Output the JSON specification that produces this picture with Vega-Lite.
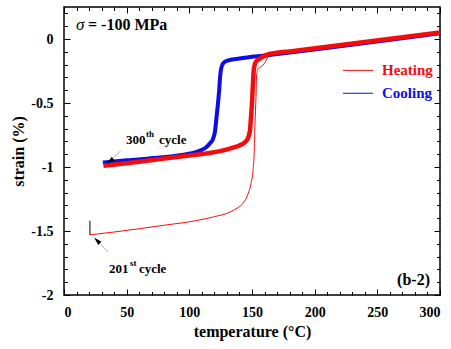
{
  "$schema": "https://vega.github.io/schema/vega-lite/v6.json",
  "width": 376,
  "height": 288,
  "autosize": {"type": "none"},
  "padding": {"left": 64, "top": 7, "right": 11, "bottom": 54},
  "background": "white",
  "config": {
    "view": {"stroke": "black", "strokeWidth": 1.5},
    "font": "Liberation Serif",
    "axis": {
      "domain": false, "grid": false, "tickColor": "black", "tickWidth": 1,
      "labelFont": "Liberation Serif", "labelFontWeight": "bold", "labelFontSize": 14, "labelColor": "black",
      "titleFont": "Liberation Serif", "titleFontWeight": "bold", "titleFontSize": 16, "titleColor": "black"
    }
  },
  "datasets": {
    "curves": [
      {"s": "cool300", "type": "Cooling", "t": 31, "e": -0.965},
      {"s": "cool300", "type": "Cooling", "t": 50, "e": -0.948},
      {"s": "cool300", "type": "Cooling", "t": 74, "e": -0.928},
      {"s": "cool300", "type": "Cooling", "t": 100.5, "e": -0.895},
      {"s": "cool300", "type": "Cooling", "t": 108.5, "e": -0.872},
      {"s": "cool300", "type": "Cooling", "t": 113, "e": -0.85},
      {"s": "cool300", "type": "Cooling", "t": 116.5, "e": -0.815},
      {"s": "cool300", "type": "Cooling", "t": 118.9, "e": -0.78},
      {"s": "cool300", "type": "Cooling", "t": 120.5, "e": -0.72},
      {"s": "cool300", "type": "Cooling", "t": 121.8, "e": -0.6},
      {"s": "cool300", "type": "Cooling", "t": 122.9, "e": -0.5},
      {"s": "cool300", "type": "Cooling", "t": 123.8, "e": -0.4},
      {"s": "cool300", "type": "Cooling", "t": 124.5, "e": -0.3},
      {"s": "cool300", "type": "Cooling", "t": 125.5, "e": -0.225},
      {"s": "cool300", "type": "Cooling", "t": 127, "e": -0.19},
      {"s": "cool300", "type": "Cooling", "t": 130, "e": -0.17},
      {"s": "cool300", "type": "Cooling", "t": 140, "e": -0.152},
      {"s": "cool300", "type": "Cooling", "t": 162, "e": -0.127},
      {"s": "cool300", "type": "Cooling", "t": 300, "e": 0.045},
      {"s": "heat300", "type": "Heating", "t": 31.5, "e": -0.99},
      {"s": "heat300", "type": "Heating", "t": 50, "e": -0.97},
      {"s": "heat300", "type": "Heating", "t": 75, "e": -0.94},
      {"s": "heat300", "type": "Heating", "t": 100, "e": -0.91},
      {"s": "heat300", "type": "Heating", "t": 124.5, "e": -0.876},
      {"s": "heat300", "type": "Heating", "t": 132.5, "e": -0.856},
      {"s": "heat300", "type": "Heating", "t": 140, "e": -0.832},
      {"s": "heat300", "type": "Heating", "t": 144, "e": -0.81},
      {"s": "heat300", "type": "Heating", "t": 146.5, "e": -0.78},
      {"s": "heat300", "type": "Heating", "t": 148.3, "e": -0.72},
      {"s": "heat300", "type": "Heating", "t": 149.3, "e": -0.6},
      {"s": "heat300", "type": "Heating", "t": 150, "e": -0.5},
      {"s": "heat300", "type": "Heating", "t": 150.5, "e": -0.4},
      {"s": "heat300", "type": "Heating", "t": 151, "e": -0.3},
      {"s": "heat300", "type": "Heating", "t": 151.7, "e": -0.22},
      {"s": "heat300", "type": "Heating", "t": 153, "e": -0.18},
      {"s": "heat300", "type": "Heating", "t": 156, "e": -0.155},
      {"s": "heat300", "type": "Heating", "t": 160, "e": -0.132},
      {"s": "heat300", "type": "Heating", "t": 164, "e": -0.117},
      {"s": "heat300", "type": "Heating", "t": 180, "e": -0.097},
      {"s": "heat300", "type": "Heating", "t": 300, "e": 0.05},
      {"s": "heat201", "type": "Heating", "t": 20.7, "e": -1.53},
      {"s": "heat201", "type": "Heating", "t": 40, "e": -1.508},
      {"s": "heat201", "type": "Heating", "t": 60, "e": -1.482},
      {"s": "heat201", "type": "Heating", "t": 80, "e": -1.455},
      {"s": "heat201", "type": "Heating", "t": 106, "e": -1.418},
      {"s": "heat201", "type": "Heating", "t": 120, "e": -1.388},
      {"s": "heat201", "type": "Heating", "t": 132.5, "e": -1.352},
      {"s": "heat201", "type": "Heating", "t": 138, "e": -1.322},
      {"s": "heat201", "type": "Heating", "t": 142.8, "e": -1.284},
      {"s": "heat201", "type": "Heating", "t": 146.8, "e": -1.21},
      {"s": "heat201", "type": "Heating", "t": 149.2, "e": -1.13},
      {"s": "heat201", "type": "Heating", "t": 150.8, "e": -1.03},
      {"s": "heat201", "type": "Heating", "t": 151.7, "e": -0.9},
      {"s": "heat201", "type": "Heating", "t": 152.4, "e": -0.66},
      {"s": "heat201", "type": "Heating", "t": 153.2, "e": -0.45},
      {"s": "heat201", "type": "Heating", "t": 153.7, "e": -0.28},
      {"s": "heat201", "type": "Heating", "t": 154.8, "e": -0.232},
      {"s": "heat201", "type": "Heating", "t": 158.8, "e": -0.205},
      {"s": "heat201", "type": "Heating", "t": 162, "e": -0.155},
      {"s": "heat201", "type": "Heating", "t": 163.6, "e": -0.128},
      {"s": "heat201", "type": "Heating", "t": 166, "e": -0.113}
    ],
    "legend": [
      {"type": "Heating", "x1": 222.6, "x2": 246.6, "tx": 253.7, "y": -0.245},
      {"type": "Cooling", "x1": 222.6, "x2": 246.6, "tx": 253.7, "y": -0.424}
    ],
    "notes": [
      {"g": "ann", "x": 49.5, "y": -0.791, "label": "300"},
      {"g": "sup", "x": 65.4, "y": -0.745, "label": "th"},
      {"g": "ann", "x": 75.8, "y": -0.791, "label": "cycle"},
      {"g": "ann", "x": 35.9, "y": -1.799, "label": "201"},
      {"g": "sup", "x": 52.7, "y": -1.752, "label": "st"},
      {"g": "ann", "x": 59.8, "y": -1.799, "label": "cycle"},
      {"g": "sig", "x": 9.6, "y": 0.107, "label": "σ"},
      {"g": "head", "x": 19.1, "y": 0.107, "label": "= -100 MPa"},
      {"g": "b2", "x": 292, "y": -1.88, "label": "(b-2)"}
    ],
    "pointers": [
      {"k": "300", "x": 39.9, "y": -0.926, "x2": 45.5, "y2": -0.87, "hx": 36.7, "hy": -0.955},
      {"k": "201", "x": 29.5, "y": -1.604, "x2": 35.1, "y2": -1.666, "hx": 26.3, "hy": -1.573}
    ],
    "marker": [
      {"x": 20.7, "y": -1.42, "y2": -1.53}
    ]
  },
  "resolve": {"axis": {"x": "independent", "y": "independent"}},
  "layer": [
    {
      "data": {"name": "curves"},
      "transform": [{"filter": "datum.s === 'heat201'"}],
      "mark": {"type": "line", "strokeWidth": 1, "interpolate": "monotone"},
      "encoding": {
        "x": {"field": "t", "type": "quantitative", "scale": {"domain": [0, 300], "nice": false, "zero": false},
          "axis": {"orient": "top", "values": [0, 50, 100, 150, 200, 250, 300], "tickSize": -6, "labels": false, "title": null}},
        "y": {"field": "e", "type": "quantitative", "scale": {"domain": [-2, 0.25], "nice": false, "zero": false},
          "axis": {"orient": "right", "values": [-2, -1.5, -1, -0.5, 0], "tickSize": -6, "labels": false, "title": null}},
        "color": {"field": "type", "type": "nominal", "scale": {"domain": ["Heating", "Cooling"], "range": ["#f20d0d", "#0d0de6"]}, "legend": null}
      }
    },
    {
      "data": {"name": "curves"},
      "transform": [{"filter": "datum.s === 'cool300'"}],
      "mark": {"type": "line", "strokeWidth": 4, "interpolate": "monotone"},
      "encoding": {
        "x": {"field": "t", "type": "quantitative", "scale": {"domain": [0, 300], "nice": false, "zero": false},
          "axis": {"orient": "bottom", "values": [0, 50, 100, 150, 200, 250, 300], "tickSize": -6, "labelPadding": 16, "title": "temperature (°C)", "titlePadding": 4}},
        "y": {"field": "e", "type": "quantitative", "scale": {"domain": [-2, 0.25], "nice": false, "zero": false},
          "axis": {"orient": "left", "values": [-2, -1.5, -1, -0.5, 0], "tickSize": -6, "labelPadding": 17, "labelExpr": "'' + datum.value", "title": "strain (%)", "titlePadding": 4}},
        "color": {"field": "type", "type": "nominal", "legend": null}
      }
    },
    {
      "data": {"name": "curves"},
      "transform": [{"filter": "datum.s === 'heat300'"}],
      "mark": {"type": "line", "strokeWidth": 4.5, "interpolate": "monotone"},
      "encoding": {
        "x": {"field": "t", "type": "quantitative", "scale": {"domain": [0, 300], "nice": false, "zero": false},
          "axis": {"orient": "bottom", "values": [0,10,20,30,40,60,70,80,90,110,120,130,140,160,170,180,190,210,220,230,240,260,270,280,290], "tickSize": -3.5, "labels": false, "title": null}},
        "y": {"field": "e", "type": "quantitative", "scale": {"domain": [-2, 0.25], "nice": false, "zero": false},
          "axis": {"orient": "left", "values": [-1.9,-1.8,-1.7,-1.6,-1.4,-1.3,-1.2,-1.1,-0.9,-0.8,-0.7,-0.6,-0.4,-0.3,-0.2,-0.1,0.1,0.2], "tickSize": -3.5, "labels": false, "title": null}},
        "color": {"field": "type", "type": "nominal", "legend": null}
      }
    },
    {
      "data": {"name": "marker"},
      "mark": {"type": "rule", "color": "black", "strokeWidth": 1},
      "encoding": {
        "x": {"field": "x", "type": "quantitative", "axis": null},
        "y": {"field": "y", "type": "quantitative", "axis": null},
        "y2": {"field": "y2"}
      }
    },
    {
      "data": {"name": "pointers"},
      "mark": {"type": "rule", "color": "#b0b0b0", "strokeWidth": 1},
      "encoding": {
        "x": {"field": "x", "type": "quantitative", "axis": null},
        "y": {"field": "y", "type": "quantitative", "axis": null},
        "x2": {"field": "x2"},
        "y2": {"field": "y2"}
      }
    },
    {
      "data": {"name": "pointers"},
      "transform": [{"filter": "datum.k === '300'"}],
      "mark": {"type": "point", "shape": "M0,-1L0.55,1L-0.55,1Z", "filled": true, "color": "black", "size": 70, "angle": 231, "opacity": 1},
      "encoding": {
        "x": {"field": "hx", "type": "quantitative", "axis": null},
        "y": {"field": "hy", "type": "quantitative", "axis": null}
      }
    },
    {
      "data": {"name": "pointers"},
      "transform": [{"filter": "datum.k === '201'"}],
      "mark": {"type": "point", "shape": "M0,-1L0.55,1L-0.55,1Z", "filled": true, "color": "black", "size": 70, "angle": 315, "opacity": 1},
      "encoding": {
        "x": {"field": "hx", "type": "quantitative", "axis": null},
        "y": {"field": "hy", "type": "quantitative", "axis": null}
      }
    },
    {
      "data": {"name": "legend"},
      "mark": {"type": "rule", "strokeWidth": 1},
      "encoding": {
        "x": {"field": "x1", "type": "quantitative", "axis": null},
        "x2": {"field": "x2"},
        "y": {"field": "y", "type": "quantitative", "axis": null},
        "color": {"field": "type", "type": "nominal", "legend": null}
      }
    },
    {
      "data": {"name": "legend"},
      "mark": {"type": "text", "align": "left", "baseline": "middle", "font": "Liberation Serif", "fontWeight": "bold", "fontSize": 15},
      "encoding": {
        "x": {"field": "tx", "type": "quantitative", "axis": null},
        "y": {"field": "y", "type": "quantitative", "axis": null},
        "text": {"field": "type"},
        "color": {"field": "type", "type": "nominal", "legend": null}
      }
    },
    {
      "data": {"name": "notes"},
      "transform": [{"filter": "datum.g === 'ann'"}],
      "mark": {"type": "text", "align": "left", "baseline": "middle", "font": "Liberation Serif", "fontWeight": "bold", "fontSize": 13, "color": "black"},
      "encoding": {
        "x": {"field": "x", "type": "quantitative",
          "axis": {"orient": "top", "values": [0,10,20,30,40,60,70,80,90,110,120,130,140,160,170,180,190,210,220,230,240,260,270,280,290], "tickSize": -3.5, "labels": false, "title": null}},
        "y": {"field": "y", "type": "quantitative",
          "axis": {"orient": "right", "values": [-1.9,-1.8,-1.7,-1.6,-1.4,-1.3,-1.2,-1.1,-0.9,-0.8,-0.7,-0.6,-0.4,-0.3,-0.2,-0.1,0.1,0.2], "tickSize": -3.5, "labels": false, "title": null}},
        "text": {"field": "label"}
      }
    },
    {
      "data": {"name": "notes"},
      "transform": [{"filter": "datum.g === 'sup'"}],
      "mark": {"type": "text", "align": "left", "baseline": "middle", "font": "Liberation Serif", "fontWeight": "bold", "fontSize": 9, "color": "black"},
      "encoding": {
        "x": {"field": "x", "type": "quantitative", "axis": null},
        "y": {"field": "y", "type": "quantitative", "axis": null},
        "text": {"field": "label"}
      }
    },
    {
      "data": {"name": "notes"},
      "transform": [{"filter": "datum.g === 'sig'"}],
      "mark": {"type": "text", "align": "left", "baseline": "middle", "font": "Liberation Serif", "fontStyle": "italic", "fontSize": 17, "color": "black"},
      "encoding": {
        "x": {"field": "x", "type": "quantitative", "axis": null},
        "y": {"field": "y", "type": "quantitative", "axis": null},
        "text": {"field": "label"}
      }
    },
    {
      "data": {"name": "notes"},
      "transform": [{"filter": "datum.g === 'head'"}],
      "mark": {"type": "text", "align": "left", "baseline": "middle", "font": "Liberation Serif", "fontWeight": "bold", "fontSize": 16, "color": "black"},
      "encoding": {
        "x": {"field": "x", "type": "quantitative", "axis": null},
        "y": {"field": "y", "type": "quantitative", "axis": null},
        "text": {"field": "label"}
      }
    },
    {
      "data": {"name": "notes"},
      "transform": [{"filter": "datum.g === 'b2'"}],
      "mark": {"type": "text", "align": "right", "baseline": "middle", "font": "Liberation Serif", "fontWeight": "bold", "fontSize": 16, "color": "black"},
      "encoding": {
        "x": {"field": "x", "type": "quantitative", "axis": null},
        "y": {"field": "y", "type": "quantitative", "axis": null},
        "text": {"field": "label"}
      }
    }
  ]
}
